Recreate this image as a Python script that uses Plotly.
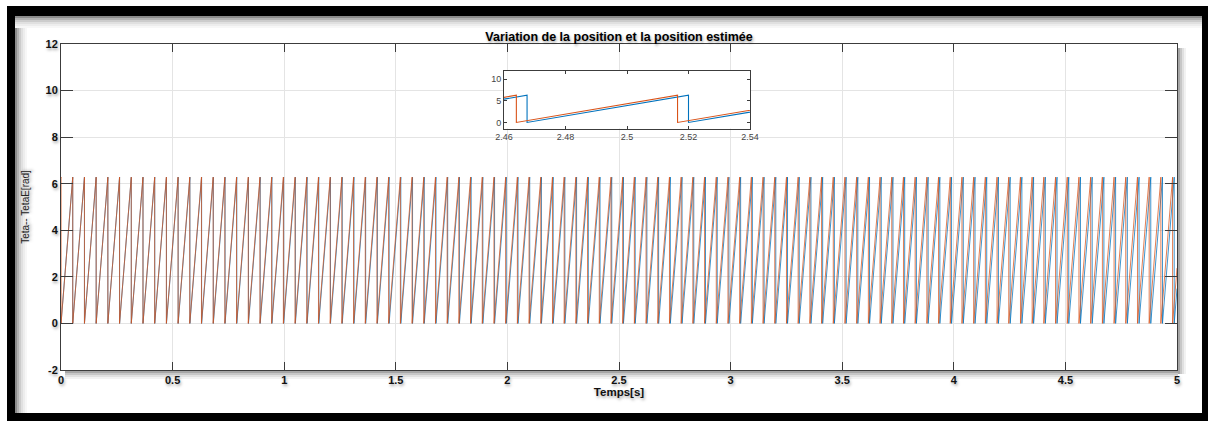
import numpy as np
import plotly.graph_objects as go

# ---- data -----------------------------------------------------------------
T_END = 5.0                      # end of simulation [s]
THETA_PEAK = 6.2832              # wrap value of the angle [rad] (2*pi)
BLUE_PERIOD = 0.0525             # period of the measured position  [s]
BLUE_FIRST_RESET = 0.0525        # first wrap of the measured position [s]
ORANGE_PERIOD = 0.05242          # period of the estimated position [s]
ORANGE_FIRST_RESET = 0.00028     # first wrap of the estimated position [s]

X_TICKS = [0, 0.5, 1, 1.5, 2, 2.5, 3, 3.5, 4, 4.5, 5]
X_TICK_LABELS = ["0", "0.5", "1", "1.5", "2", "2.5", "3", "3.5", "4", "4.5", "5"]
Y_TICKS = [-2, 0, 2, 4, 6, 8, 10, 12]
Y_TICK_LABELS = ["-2", "0", "2", "4", "6", "8", "10", "12"]
INSET_X_TICKS = [2.46, 2.48, 2.5, 2.52, 2.54]
INSET_X_LABELS = ["2.46", "2.48", "2.5", "2.52", "2.54"]
INSET_Y_TICKS = [0, 5, 10]
INSET_Y_LABELS = ["0", "5", "10"]

TITLE = "Variation de la position et la position estimée"
X_LABEL = "Temps[s]"
Y_LABEL = "Teta-- TetaE[rad]"

BLUE = "#0072BD"
ORANGE = "#D95319"


def sawtooth_corners(period, first_reset, t_end, peak):
    """Corner points of a wrapped angle (ramp 0 -> peak, then wrap)."""
    t = [0.0]
    y = [peak * (1.0 - first_reset / period)]
    r = first_reset
    last = r - period
    while r <= t_end:
        t += [r, r]
        y += [peak, 0.0]
        last = r
        r += period
    t.append(t_end)
    y.append(peak * (t_end - last) / period)
    return t, y


tb, yb = sawtooth_corners(BLUE_PERIOD, BLUE_FIRST_RESET, T_END, THETA_PEAK)
to, yo = sawtooth_corners(ORANGE_PERIOD, ORANGE_FIRST_RESET, T_END, THETA_PEAK)

# ---- geometry of the figure -----------------------------------------------
W, H = 1210, 421
L, R, T, B = 61, 33, 44, 51
PW, PH = W - L - R, H - T - B


def px(x):
    return (x - L) / PW


def py(y):
    return (H - B - y) / PH


SHADOW = "1px 2px 3px rgba(0,0,0,0.35)"
FONT = "Liberation Sans, Arial, sans-serif"

fig = go.Figure()
for tx, ty, col in ((tb, yb, BLUE), (to, yo, ORANGE)):
    fig.add_trace(go.Scatter(x=tx, y=ty, mode="lines", line=dict(color=col, width=0.75),
                             xaxis="x", yaxis="y", showlegend=False, hoverinfo="skip"))
for tx, ty, col in ((tb, yb, BLUE), (to, yo, ORANGE)):
    fig.add_trace(go.Scatter(x=tx, y=ty, mode="lines", line=dict(color=col, width=1.1),
                             xaxis="x2", yaxis="y2", showlegend=False, hoverinfo="skip"))

shapes = []
# black frame
shapes.append(dict(type="rect", xref="paper", yref="paper", layer="below",
                   x0=px(7), x1=px(1208), y0=py(425), y1=py(6),
                   fillcolor="black", line=dict(width=0)))
shapes.append(dict(type="rect", xref="paper", yref="paper", layer="below",
                   x0=px(15), x1=px(1202), y0=py(413), y1=py(16),
                   fillcolor="white", line=dict(width=0)))
# inner shadow of the frame (top and left)
for i, a in enumerate([0.45, 0.3, 0.2, 0.12, 0.07, 0.03]):
    shapes.append(dict(type="rect", xref="paper", yref="paper", layer="below",
                       x0=px(15), x1=px(1202), y0=py(16 + 2 * i + 2), y1=py(16 + 2 * i),
                       fillcolor=f"rgba(0,0,0,{a})", line=dict(width=0)))
    shapes.append(dict(type="rect", xref="paper", yref="paper", layer="below",
                       x0=px(15 + 2 * i), x1=px(15 + 2 * i + 2), y0=py(413), y1=py(16 + 12),
                       fillcolor=f"rgba(0,0,0,{a})", line=dict(width=0)))
# drop shadow of the axes box (right and bottom)
for i, a in enumerate([0.35, 0.22, 0.12, 0.05]):
    shapes.append(dict(type="rect", xref="paper", yref="paper", layer="below",
                       x0=px(W - R + 1 + 2 * i), x1=px(W - R + 3 + 2 * i), y0=py(H - B + 4), y1=py(T + 4),
                       fillcolor=f"rgba(0,0,0,{a})", line=dict(width=0)))
    shapes.append(dict(type="rect", xref="paper", yref="paper", layer="below",
                       x0=px(L + 4), x1=px(W - R + 1), y0=py(H - B + 3 + 2 * i), y1=py(H - B + 1 + 2 * i),
                       fillcolor=f"rgba(0,0,0,{a})", line=dict(width=0)))

axis_common = dict(showline=True, linecolor="#3c3c3c", linewidth=1, mirror="allticks",
                   ticks="inside", tickcolor="#3c3c3c", zeroline=False)

fig.update_layout(
    width=W, height=H, autosize=False,
    margin=dict(l=L, r=R, t=T, b=B, pad=0),
    paper_bgcolor="white", plot_bgcolor="white",
    shapes=shapes,
    title=dict(text=TITLE, x=0.5, xref="paper", xanchor="center",
               y=1 - 37 / H, yanchor="middle",
               font=dict(family=FONT, size=12.5, color="black", weight="bold", shadow=SHADOW)),
    xaxis=dict(range=[0, T_END], tickvals=X_TICKS, ticktext=X_TICK_LABELS, ticklen=8,
               showgrid=True, gridcolor="#e4e4e4", gridwidth=1,
               tickfont=dict(family=FONT, size=11, color="#111", weight="bold", shadow=SHADOW),
               title=dict(text=X_LABEL, standoff=2,
                          font=dict(family=FONT, size=11.5, color="#111", weight="bold", shadow=SHADOW)),
               **axis_common),
    yaxis=dict(range=[-2, 12], tickvals=Y_TICKS, ticktext=Y_TICK_LABELS, ticklen=12,
               showgrid=True, gridcolor="#e4e4e4", gridwidth=1,
               tickfont=dict(family=FONT, size=11, color="#111", weight="bold", shadow=SHADOW),
               title=dict(text=Y_LABEL, standoff=14,
                          font=dict(family="Liberation Sans Narrow, Arial Narrow, sans-serif",
                                    size=10, color="#222", shadow=SHADOW)),
               **axis_common),
    xaxis2=dict(domain=[px(504), px(750)], anchor="y2", range=[2.46, 2.54],
                tickvals=INSET_X_TICKS, ticktext=INSET_X_LABELS, ticklen=3, showgrid=False,
                tickfont=dict(family=FONT, size=9, color="#444"), **axis_common),
    yaxis2=dict(domain=[py(128.5), py(70.5)], anchor="x2", range=[-1.4, 12],
                tickvals=INSET_Y_TICKS, ticktext=INSET_Y_LABELS, ticklen=3, showgrid=False,
                tickfont=dict(family=FONT, size=9, color="#444"), **axis_common),
)

fig.write_html("out.html", config={"displayModeBar": False},
               post_script="document.body.style.margin='0px';")
